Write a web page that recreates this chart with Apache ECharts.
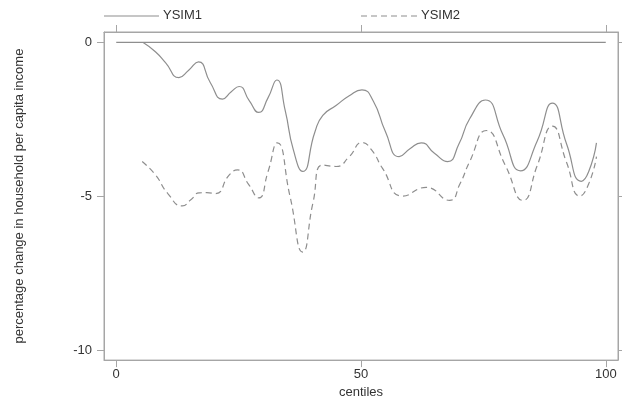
<!DOCTYPE html>
<html>
<head>
<meta charset="utf-8">
<script src="https://cdn.jsdelivr.net/npm/echarts@6/dist/echarts.min.js"></script>
<style>
  html, body { margin: 0; padding: 0; background: #fff; }
  #chart { width: 622px; height: 404px; }
</style>
</head>
<body>
<div id="chart"></div>
<script>
// ---- data ----
var xTicks = [0, 50, 100];
var yTicks = [-10, -5, 0];
var seriesNames = ['YSIM1', 'YSIM2'];

var zeroX = [0, 100];
var zeroY = [0, 0];

var ysim1X = [5.5, 8, 10.1, 12.8, 14.8, 16.8, 19.2, 21.7, 23.5, 25.1, 27.2, 29.1, 31, 32.8, 34.5, 36.2, 38.1, 40.6, 42.2, 44.9, 47.6, 50.2, 52.5, 55, 57.8, 60, 62.3, 65, 67.7, 70, 72.2, 75.4, 79, 82.6, 86, 89.1, 92, 95, 96.5, 98.1];
var ysim1Y = [0, -0.3, -0.66, -1.14, -0.9, -0.63, -1.3, -1.84, -1.6, -1.43, -1.9, -2.27, -1.8, -1.22, -2.2, -3.5, -4.19, -2.9, -2.37, -2.05, -1.73, -1.54, -1.9, -2.9, -3.71, -3.45, -3.26, -3.6, -3.87, -3.3, -2.48, -1.87, -3.0, -4.17, -3.2, -1.97, -3.3, -4.51, -4.2, -3.26];

var ysim2X = [5.3, 8, 10.5, 13.5, 15.3, 16.9, 18.5, 20.3, 23.1, 24.8, 27, 29.1, 31, 32.9, 35.5, 38.1, 40.2, 42.2, 44.9, 47.6, 50.2, 52.2, 54.4, 58.5, 63.3, 68.1, 70.2, 72.2, 75.6, 79.5, 83.1, 86, 89.1, 92, 94.7, 96.5, 98.1];
var ysim2Y = [-3.87, -4.3, -4.9, -5.31, -5.1, -4.89, -4.88, -4.91, -4.3, -4.14, -4.6, -5.05, -4.2, -3.26, -5.0, -6.81, -5.2, -3.98, -4.03, -3.71, -3.25, -3.5, -4.09, -4.99, -4.71, -5.13, -4.6, -3.87, -2.86, -4.0, -5.13, -4.0, -2.72, -3.9, -4.99, -4.6, -3.71];

function pairs(xs, ys) { return xs.map(function (x, i) { return [x, ys[i]]; }); }

var LINE = '#8e8e8e';
var FRAME = '#a6a6a6';
var TEXT = '#333333';
var FONT = '"Liberation Sans", Arial, Helvetica, sans-serif';

var chart = echarts.init(document.getElementById('chart'), null, { renderer: 'canvas' });

function axisLine() { return { show: true, onZero: false, lineStyle: { color: FRAME } }; }
function axisTick(vals) { return { show: true, inside: false, length: 7, customValues: vals, lineStyle: { color: FRAME } }; }

var option = {
  animation: false,
  backgroundColor: '#ffffff',
  textStyle: { fontFamily: FONT },
  grid: { left: 104, top: 32, right: 4, bottom: 40, show: true, borderColor: FRAME, borderWidth: 1 },
  xAxis: [{
    type: 'value', position: 'bottom', min: -2.5, max: 102.5,
    name: 'centiles', nameLocation: 'middle', nameGap: 21,
    nameTextStyle: { color: TEXT, fontSize: 13, fontFamily: FONT },
    axisLine: axisLine(),
    axisTick: axisTick(xTicks),
    axisLabel: { customValues: xTicks, margin: 8, color: TEXT, fontSize: 13, fontFamily: FONT },
    splitLine: { show: false }
  }, {
    type: 'value', position: 'top', min: -2.5, max: 102.5,
    axisLine: axisLine(),
    axisTick: axisTick(xTicks),
    axisLabel: { show: false },
    splitLine: { show: false }
  }],
  yAxis: [{
    type: 'value', position: 'left', min: -10.32, max: 0.34,
    name: 'percentage change in household per capita income',
    nameLocation: 'middle', nameGap: 78, nameRotate: 90,
    nameTextStyle: { color: TEXT, fontSize: 13, fontFamily: FONT },
    axisLine: axisLine(),
    axisTick: axisTick(yTicks),
    axisLabel: { customValues: yTicks, margin: 12, color: TEXT, fontSize: 13, fontFamily: FONT },
    splitLine: { show: false }
  }, {
    type: 'value', position: 'right', min: -10.32, max: 0.34,
    axisLine: axisLine(),
    axisTick: axisTick(yTicks),
    axisLabel: { show: false },
    splitLine: { show: false }
  }],
  series: [{
    name: 'zero', type: 'line', data: pairs(zeroX, zeroY), showSymbol: false, symbol: 'none',
    lineStyle: { color: LINE, width: 1.2 }, silent: true
  }, {
    name: seriesNames[0], type: 'line', data: pairs(ysim1X, ysim1Y), smooth: 0.55,
    showSymbol: false, symbol: 'none',
    lineStyle: { color: LINE, width: 1.2 }
  }, {
    name: seriesNames[1], type: 'line', data: pairs(ysim2X, ysim2Y), smooth: 0.55,
    showSymbol: false, symbol: 'none',
    lineStyle: { color: LINE, width: 1.2, type: [6, 4] }
  }],
  graphic: [
    { type: 'line', shape: { x1: 104, y1: 16, x2: 159, y2: 16 }, style: { stroke: LINE, lineWidth: 1.2 } },
    { type: 'text', left: 163, top: 9, style: { text: seriesNames[0], fill: TEXT, font: '13px ' + FONT } },
    { type: 'line', shape: { x1: 361, y1: 16, x2: 418, y2: 16 }, style: { stroke: LINE, lineWidth: 1.2, lineDash: [6, 4] } },
    { type: 'text', left: 421, top: 9, style: { text: seriesNames[1], fill: TEXT, font: '13px ' + FONT } }
  ]
};
chart.setOption(option);
</script>
</body>
</html>
